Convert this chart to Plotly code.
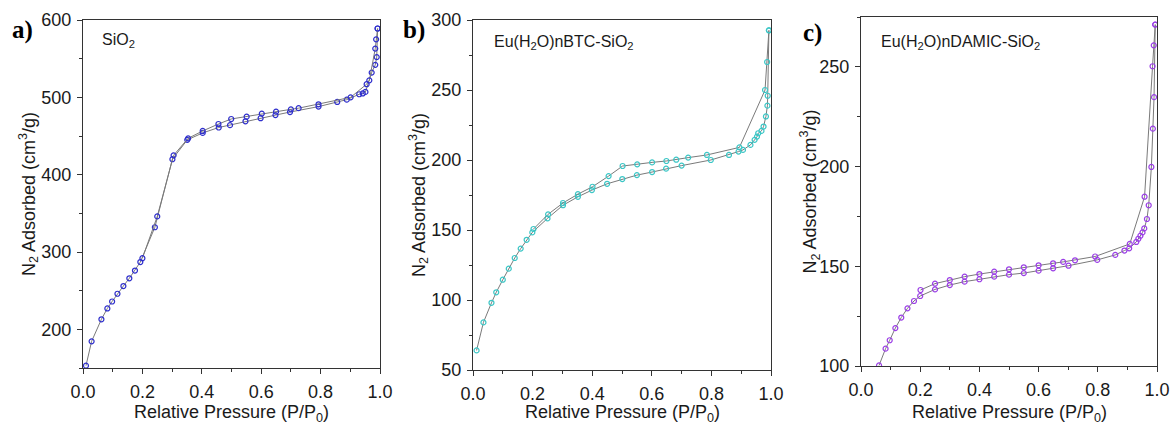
import plotly.graph_objects as go

W, H = 1172, 427

# ---------------- data ----------------
# a) SiO2
a_ads_p = [0.010, 0.029, 0.062, 0.082, 0.098, 0.116, 0.136, 0.156, 0.175, 0.193, 0.242, 0.301, 0.351, 0.403,
           0.457, 0.495, 0.547, 0.598, 0.648, 0.697, 0.793, 0.856, 0.888, 0.930, 0.942, 0.951, 0.972,
           0.984, 0.989, 0.992]
a_ads_v = [153, 184.5, 213, 227, 236, 246, 256, 266, 276, 287, 332, 420, 445, 454,
           461, 464, 469, 473, 477, 481, 488, 494, 497, 504, 505, 507, 532,
           542, 552, 589]
a_des_p = [0.992, 0.987, 0.984, 0.964, 0.955, 0.901, 0.793, 0.726, 0.700, 0.650, 0.602, 0.551, 0.499,
           0.456, 0.403, 0.354, 0.305, 0.250, 0.200]
a_des_v = [589, 575, 563, 522, 517, 500, 491, 486, 484.5, 481.5, 479, 475, 472,
           465.5, 456.5, 447, 425, 346, 292]

# b) Eu(H2O)nBTC-SiO2
b_ads_p = [0.012, 0.035, 0.062, 0.078, 0.100, 0.120, 0.140, 0.160, 0.180, 0.199, 0.250, 0.302, 0.352,
           0.399, 0.450, 0.501, 0.550, 0.601, 0.648, 0.700, 0.798, 0.859, 0.891, 0.906, 0.931, 0.945,
           0.953, 0.957, 0.968, 0.975, 0.983, 0.988, 0.989, 0.993]
b_ads_v = [64, 84, 98, 105.5, 114.5, 122.4, 130, 136.7, 143, 148.3, 158.3, 167.7, 173.7,
           178.5, 183, 186.4, 189.2, 191.4, 193.8, 196, 200, 203.6, 206, 207.2, 210.8, 214.4,
           216.7, 219.1, 220.8, 223.9, 231.1, 238.8, 245.9, 292.6]
b_des_p = [0.993, 0.987, 0.980, 0.894, 0.785, 0.722, 0.682, 0.649, 0.601, 0.551, 0.502, 0.455,
           0.401, 0.352, 0.302, 0.252, 0.203]
b_des_v = [292.6, 270, 250, 209, 203.6, 201.7, 200.2, 199.3, 198.3, 196.9, 195.7, 188.5,
           180.9, 175.6, 169.3, 161.2, 150.7]

# c) Eu(H2O)nDAMIC-SiO2
c_ads_p = [0.061, 0.083, 0.097, 0.116, 0.136, 0.157, 0.179, 0.200, 0.250, 0.300, 0.350, 0.400, 0.450,
           0.500, 0.550, 0.600, 0.649, 0.701, 0.798, 0.859, 0.890, 0.906, 0.930, 0.937, 0.944, 0.951,
           0.957, 0.966, 0.972, 0.981, 0.986, 0.990, 0.994]
c_ads_v = [100.3, 108.7, 112.9, 119, 124.3, 128.9, 132.6, 135.1, 138.4, 140.6, 142.3, 143.5, 144.8,
           145.8, 146.6, 147.8, 149, 150.3, 153.2, 155.7, 157.9, 159, 162.2, 163.8, 165.3, 167,
           169, 173.7, 180.6, 199.8, 219, 234.8, 271.2]
c_des_p = [0.994, 0.989, 0.985, 0.958, 0.908, 0.791, 0.723, 0.683, 0.649, 0.600, 0.550, 0.500,
           0.450, 0.400, 0.350, 0.300, 0.250, 0.201]
c_des_v = [271.2, 260.8, 250.3, 184.9, 161.2, 154.9, 153, 152.2, 151.5, 150.5, 149.5, 148.5,
           147.3, 146.1, 144.8, 143.1, 141.3, 138.1]

panels = [
    dict(ads_p=a_ads_p, ads_v=a_ads_v, des_p=a_des_p, des_v=a_des_v, color="#2f2fcc",
         yr=[150, 600], dtick=100, minor=50, label="a)", name="SiO<sub>2</sub>",
         px=(83, 380), py=(20, 368), lab=(22, 30), nm=(100, 40), yt=28),
    dict(ads_p=b_ads_p, ads_v=b_ads_v, des_p=b_des_p, des_v=b_des_v, color="#3cc6c6",
         yr=[50, 300], dtick=50, minor=25, label="b)", name="Eu(H<sub>2</sub>O)nBTC-SiO<sub>2</sub>",
         px=(473, 771), py=(20, 370), lab=(414, 30), nm=(492, 42), yt=418),
    dict(ads_p=c_ads_p, ads_v=c_ads_v, des_p=c_des_p, des_v=c_des_v, color="#9b3fe6",
         yr=[100, 275], dtick=50, minor=25, label="c)", name="Eu(H<sub>2</sub>O)nDAMIC-SiO<sub>2</sub>",
         px=(861, 1157), py=(17, 366), lab=(812, 33), nm=(879, 42), yt=810),
]

SANS = "Arial, Liberation Sans, sans-serif"
SERIF = "Times New Roman, Liberation Serif, serif"

fig = go.Figure()
annotations = []
for i, p in enumerate(panels, start=1):
    xa = "x" if i == 1 else f"x{i}"
    ya = "y" if i == 1 else f"y{i}"
    for xs, ys in ((p["ads_p"], p["ads_v"]), (p["des_p"], p["des_v"])):
        fig.add_trace(go.Scatter(
            x=xs, y=ys, xaxis=xa, yaxis=ya, mode="lines+markers",
            line=dict(color="#7a7a7a", width=1),
            marker=dict(symbol="circle-open", size=5, color=p["color"], line=dict(width=1.2, color=p["color"])),
            showlegend=False, hoverinfo="x+y"))
    xd = [p["px"][0] / W, p["px"][1] / W]
    yd = [1 - p["py"][1] / H, 1 - p["py"][0] / H]
    axcommon = dict(showline=True, linecolor="#333333", linewidth=1.3, mirror=True,
                    ticks="outside", ticklen=5, tickwidth=1.2, tickcolor="#333333",
                    showgrid=False, zeroline=False, automargin=False,
                    tickfont=dict(family=SANS, size=18, color="#1a1a1a"))
    fig.update_layout(**{
        ("xaxis" if i == 1 else f"xaxis{i}"): dict(
            domain=xd, range=[0, 1.0], dtick=0.2, tickformat=".1f", anchor=ya,
            ticklabelstandoff=2,
            minor=dict(dtick=0.1, ticks="outside", ticklen=3, tickwidth=1, tickcolor="#333333"),
            **axcommon),
        ("yaxis" if i == 1 else f"yaxis{i}"): dict(
            domain=yd, range=p["yr"], dtick=p["dtick"], anchor=xa,
            ticklabelstandoff=2,
            minor=dict(dtick=p["minor"], ticks="outside", ticklen=3, tickwidth=1, tickcolor="#333333"),
            **axcommon),
    })
    cx = (p["px"][0] + p["px"][1]) / 2
    annotations += [
        dict(text="<b>" + p["label"] + "</b>", x=p["lab"][0] / W, y=1 - p["lab"][1] / H, xref="paper", yref="paper",
             showarrow=False, xanchor="center", yanchor="middle",
             font=dict(family=SERIF, size=25, color="black")),
        dict(text=p["name"], x=p["nm"][0] / W, y=1 - p["nm"][1] / H, xref="paper", yref="paper",
             showarrow=False, xanchor="left", yanchor="middle",
             font=dict(family=SANS, size=16, color="#1a1a1a")),
        dict(text="Relative Pressure (P/P<sub>0</sub>)", x=cx / W, y=0, xref="paper", yref="paper",
             showarrow=False, xanchor="center", yanchor="bottom",
             font=dict(family=SANS, size=18, color="#1a1a1a")),
        dict(text="N<sub>2</sub> Adsorbed (cm<sup>3</sup>/g)", x=p["yt"] / W,
             y=1 - ((p["py"][0] + p["py"][1]) / 2) / H, xref="paper", yref="paper",
             showarrow=False, xanchor="center", yanchor="middle", textangle=-90,
             font=dict(family=SANS, size=18, color="#1a1a1a")),
    ]

fig.update_layout(width=W, height=H, margin=dict(l=0, r=0, t=0, b=0),
                  paper_bgcolor="white", plot_bgcolor="white", annotations=annotations)
fig.write_html("out.html")
